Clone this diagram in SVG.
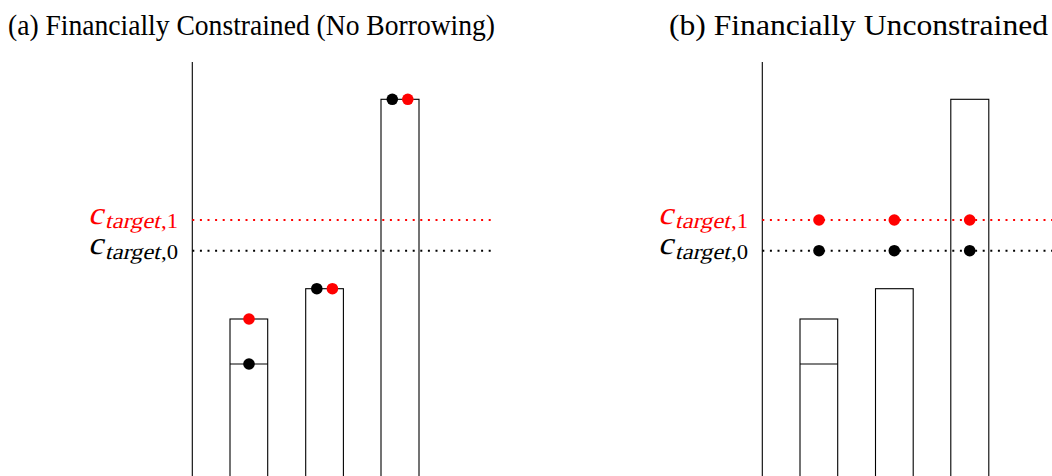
<svg xmlns="http://www.w3.org/2000/svg" width="1052" height="476" viewBox="0 0 1052 476">
<style>
.title{font-family:"Liberation Serif",serif;font-size:29px;fill:#000}
.axis{stroke:#000;stroke-width:1.1;fill:none}
.bar{stroke:#000;stroke-width:1.1;fill:none}
.dotr{stroke:#f00;stroke-width:2;stroke-dasharray:2 5.6;fill:none}
.dotk{stroke:#000;stroke-width:2;stroke-dasharray:2 5.6;fill:none}
.c{font-family:"Liberation Serif",serif;font-size:32px}
.sub{font-family:"Liberation Serif",serif;font-size:22px}
.red{fill:#f00}
.blk{fill:#000}
</style>
<rect width="1052" height="476" fill="#fff"/>
<g id="panel-a">
<text class="title" x="8" y="35" textLength="487" lengthAdjust="spacingAndGlyphs">(a) Financially Constrained (No Borrowing)</text>
<line class="axis" x1="192.3" y1="62" x2="192.3" y2="480"/>
<g id="a-label-1" class="red">
<g transform="translate(88,223.5) skewX(-14)"><text class="c" x="0" y="0" textLength="15" lengthAdjust="spacingAndGlyphs">c</text><text class="sub" x="18" y="4.5" textLength="55" lengthAdjust="spacingAndGlyphs">target</text></g>
<text class="sub" x="161" y="228" textLength="17" lengthAdjust="spacingAndGlyphs">,1</text>
</g>
<g id="a-label-0" class="blk">
<g transform="translate(88,254) skewX(-14)"><text class="c" x="0" y="0" textLength="15" lengthAdjust="spacingAndGlyphs">c</text><text class="sub" x="18" y="4.5" textLength="55" lengthAdjust="spacingAndGlyphs">target</text></g>
<text class="sub" x="161" y="258.5" textLength="17" lengthAdjust="spacingAndGlyphs">,0</text>
</g>
<g id="a-bar1">
<rect class="bar" x="230" y="319" width="37.7" height="170"/>
<line class="bar" x1="230" y1="364" x2="267.7" y2="364"/>
</g>
<g id="a-bar2"><rect class="bar" x="305.7" y="288.7" width="37.7" height="200"/></g>
<g id="a-bar3"><rect class="bar" x="381" y="99.3" width="38" height="390"/></g>
</g>
<g id="panel-b">
<text class="title" x="669" y="35" textLength="379" lengthAdjust="spacingAndGlyphs">(b) Financially Unconstrained</text>
<line class="axis" x1="762.3" y1="62" x2="762.3" y2="480"/>
<g id="b-label-1" class="red">
<g transform="translate(658,223.5) skewX(-14)"><text class="c" x="0" y="0" textLength="15" lengthAdjust="spacingAndGlyphs">c</text><text class="sub" x="18" y="4.5" textLength="55" lengthAdjust="spacingAndGlyphs">target</text></g>
<text class="sub" x="731" y="228" textLength="17" lengthAdjust="spacingAndGlyphs">,1</text>
</g>
<g id="b-label-0" class="blk">
<g transform="translate(658,254) skewX(-14)"><text class="c" x="0" y="0" textLength="15" lengthAdjust="spacingAndGlyphs">c</text><text class="sub" x="18" y="4.5" textLength="55" lengthAdjust="spacingAndGlyphs">target</text></g>
<text class="sub" x="731" y="258.5" textLength="17" lengthAdjust="spacingAndGlyphs">,0</text>
</g>
<g id="b-bar1">
<rect class="bar" x="800" y="319" width="37.7" height="170"/>
<line class="bar" x1="800" y1="364" x2="837.7" y2="364"/>
</g>
<g id="b-bar2"><rect class="bar" x="875.5" y="288.7" width="37.7" height="200"/></g>
<g id="b-bar3"><rect class="bar" x="950.8" y="99.3" width="38" height="390"/></g>
</g>
<g id="connectors">
<line class="dotr" x1="192.3" y1="220" x2="494" y2="220"/>
<line class="dotk" x1="192.3" y1="250.7" x2="494" y2="250.7"/>
<line class="dotr" x1="762.3" y1="220" x2="1052" y2="220"/>
<line class="dotk" x1="762.3" y1="250.7" x2="1052" y2="250.7"/>
</g>
<g id="markers">
<circle class="red" cx="249" cy="319" r="5.8"/>
<circle class="blk" cx="249" cy="364" r="5.8"/>
<circle class="blk" cx="316.8" cy="288.7" r="5.8"/>
<circle class="red" cx="332.4" cy="288.7" r="5.8"/>
<circle class="blk" cx="392.3" cy="99.3" r="5.8"/>
<circle class="red" cx="407.8" cy="99.3" r="5.8"/>
<circle class="red" cx="819" cy="220" r="5.8"/>
<circle class="red" cx="894.3" cy="220" r="5.8"/>
<circle class="red" cx="969.7" cy="220" r="5.8"/>
<circle class="blk" cx="819" cy="250.7" r="5.8"/>
<circle class="blk" cx="894.3" cy="250.7" r="5.8"/>
<circle class="blk" cx="969.7" cy="250.7" r="5.8"/>
</g>
</svg>
